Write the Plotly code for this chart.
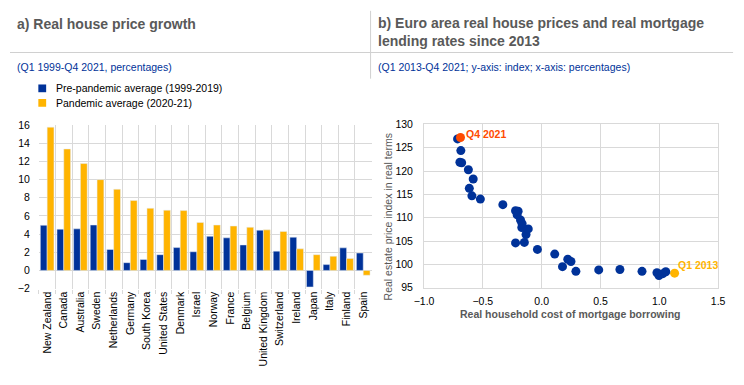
import plotly.graph_objects as go

# ---------------- data ----------------
countries = ["New Zealand", "Canada", "Australia", "Sweden", "Netherlands", "Germany",
             "South Korea", "United States", "Denmark", "Israel", "Norway", "France",
             "Belgium", "United Kingdom", "Switzerland", "Ireland", "Japan", "Italy",
             "Finland", "Spain"]
pre_pandemic = [4.96, 4.53, 4.57, 4.99, 2.30, 0.85, 1.20, 1.73, 2.51, 2.05, 3.75, 3.58,
                2.80, 4.42, 2.12, 3.65, -1.82, 0.64, 2.48, 1.91]
pandemic = [15.75, 13.35, 11.75, 9.98, 8.92, 7.68, 6.83, 6.62, 6.58, 5.27, 4.99, 4.88,
            4.74, 4.46, 4.28, 2.37, 1.73, 1.56, 1.31, -0.53]
bar_ticks = [-2, 0, 2, 4, 6, 8, 10, 12, 14, 16]

# Q1 2013 ... Q4 2021 (approximate reading)
mortgage_cost = [1.13, 1.055, 1.03, 0.997, 0.98, 0.853, 0.665, 0.485, 0.291, 0.177,
                 0.249, 0.222, 0.111, -0.036, -0.147, -0.222, -0.133, -0.114, -0.169,
                 -0.166, -0.18, -0.208, -0.20, -0.222, -0.33, -0.521, -0.593, -0.615,
                 -0.582, -0.623, -0.68, -0.695, -0.687, -0.715, -0.69]
price_index = [98.1, 98.4, 98.0, 97.6, 98.2, 98.5, 98.9, 98.8, 98.5, 99.5,
               100.6, 101.1, 102.2, 103.2, 104.7, 104.6, 106.4, 107.6, 107.9,
               108.7, 109.5, 110.6, 111.4, 111.5, 112.8, 114.0, 114.7, 116.3,
               118.3, 120.3, 121.8, 121.9, 124.4, 126.9, 127.2]

BLUE = "#003299"
YELLOW = "#FFB400"
RED = "#FF4B00"
GRID = "#d9d9d9"
GRAY = "#595959"
FONT = "Liberation Sans, Arial, sans-serif"

W, H = 744, 385


def px(x):
    return x / W


def py(y):
    return 1 - y / H


fig = go.Figure()

fig.add_trace(go.Bar(x=countries, y=pre_pandemic, name="Pre-pandemic average (1999-2019)",
                     marker=dict(color=BLUE), xaxis="x", yaxis="y", showlegend=False))
fig.add_trace(go.Bar(x=countries, y=pandemic, name="Pandemic average (2020-21)",
                     marker=dict(color=YELLOW), xaxis="x", yaxis="y", showlegend=False))

colors = [BLUE] * len(mortgage_cost)
colors[0] = YELLOW
colors[-1] = RED
fig.add_trace(go.Scatter(x=mortgage_cost, y=price_index, mode="markers",
                         marker=dict(color=colors, size=9), xaxis="x2", yaxis="y2",
                         showlegend=False, hoverinfo="x+y"))

axis_font = dict(family=FONT, size=10.5, color="#000000")

fig.update_layout(
    width=W, height=H, autosize=False,
    margin=dict(l=0, r=0, t=0, b=0),
    paper_bgcolor="white", plot_bgcolor="white",
    font=dict(family=FONT, size=10.5, color="#000000"),
    barmode="group", bargap=0.18, bargroupgap=0,
    xaxis=dict(domain=[px(29.5), px(370)], anchor="y", type="category",
               tickson="boundaries", showgrid=True, gridcolor=GRID, gridwidth=1,
               ticks="outside", ticklen=4, tickcolor=GRID, tickangle=-90,
               tickfont=axis_font, showline=False, zeroline=False),
    yaxis=dict(domain=[py(291.7), py(122.7)], anchor="x", range=[-2, 16],
               tickvals=bar_ticks, showgrid=True, gridcolor=GRID, zeroline=True,
               zerolinecolor=GRID, zerolinewidth=1, tickfont=axis_font,
               ticklabelstandoff=8, showline=False),
    xaxis2=dict(domain=[px(423.7), px(724.7)], anchor="y2", range=[-1.0, 1.5],
                dtick=0.5, tick0=-1.0, tickformat=".1f", showgrid=True, gridcolor=GRID,
                zeroline=False, showline=True, linecolor=GRID, mirror=True,
                tickfont=axis_font, ticklabelstandoff=4),
    yaxis2=dict(domain=[py(290.7), py(122.3)], anchor="x2", range=[95, 130],
                dtick=5, showgrid=True, gridcolor=GRID, zeroline=False,
                showline=True, linecolor=GRID, mirror=True, tickfont=axis_font,
                ticklabelstandoff=8),
)

ann = []
# titles
ann.append(dict(x=px(5), y=py(19), xref="paper", yref="paper", xanchor="left", yanchor="middle",
                text="<b>a) Real house price growth</b>", showarrow=False,
                font=dict(family=FONT, size=14, color=GRAY)))
ann.append(dict(x=px(375), y=py(27), xref="paper", yref="paper", xanchor="left", yanchor="middle",
                text="<b>b) Euro area real house prices and real mortgage<br>lending rates since 2013</b>",
                showarrow=False, align="left",
                font=dict(family=FONT, size=14, color=GRAY)))
# subtitles
ann.append(dict(x=px(5), y=py(63), xref="paper", yref="paper", xanchor="left", yanchor="middle",
                text="(Q1 1999-Q4 2021, percentages)", showarrow=False,
                font=dict(family=FONT, size=10.5, color=BLUE)))
ann.append(dict(x=px(375), y=py(63), xref="paper", yref="paper", xanchor="left", yanchor="middle",
                text="(Q1 2013-Q4 2021; y-axis: index; x-axis: percentages)", showarrow=False,
                font=dict(family=FONT, size=10.5, color=BLUE)))
# legend texts
ann.append(dict(x=px(45), y=py(85), xref="paper", yref="paper", xanchor="left", yanchor="middle",
                text="Pre-pandemic average (1999-2019)", showarrow=False,
                font=dict(family=FONT, size=10.5, color="#000000")))
ann.append(dict(x=px(45), y=py(100), xref="paper", yref="paper", xanchor="left", yanchor="middle",
                text="Pandemic average (2020-21)", showarrow=False,
                font=dict(family=FONT, size=10.5, color="#000000")))
# scatter axis titles
ann.append(dict(x=px(387), y=py(217), xref="paper", yref="paper", xanchor="center", yanchor="middle",
                text="Real estate price index in real terms", textangle=-90, showarrow=False,
                font=dict(family=FONT, size=10.5, color=GRAY)))
ann.append(dict(x=px(574), y=py(318), xref="paper", yref="paper", xanchor="center", yanchor="middle",
                text="<b>Real household cost of mortgage borrowing</b>", showarrow=False,
                font=dict(family=FONT, size=10.5, color=GRAY)))
# point labels
ann.append(dict(x=mortgage_cost[-1], y=price_index[-1], xref="x2", yref="y2",
                xanchor="left", yanchor="bottom", xshift=4, yshift=-4,
                text="<b>Q4 2021</b>", showarrow=False,
                font=dict(family=FONT, size=10.5, color=RED)))
ann.append(dict(x=mortgage_cost[0], y=price_index[0], xref="x2", yref="y2",
                xanchor="left", yanchor="bottom", xshift=1, yshift=0,
                text="<b>Q1 2013</b>", showarrow=False,
                font=dict(family=FONT, size=10.5, color=YELLOW)))
fig.update_layout(annotations=ann)

shapes = [
    dict(type="line", xref="paper", yref="paper", x0=0, x1=px(740), y0=py(48), y1=py(48),
         line=dict(color="#d0d0d0", width=1)),
    dict(type="line", xref="paper", yref="paper", x0=px(369), x1=px(369), y0=py(5), y1=py(75),
         line=dict(color="#d0d0d0", width=1)),
    # legend swatches
    dict(type="rect", xref="paper", yref="paper", x0=px(29), x1=px(37), y0=py(89), y1=py(81),
         fillcolor=BLUE, line=dict(width=0)),
    dict(type="rect", xref="paper", yref="paper", x0=px(29), x1=px(37), y0=py(104), y1=py(96),
         fillcolor=YELLOW, line=dict(width=0)),
]
fig.update_layout(shapes=shapes)

fig.write_html("out.html", config={"displayModeBar": False})

# remove default page margins so the 744x385 figure fills the window exactly
with open("out.html", "r", encoding="utf-8") as f:
    html = f.read()
html = html.replace("<head>", "<head><style>html,body{margin:0;padding:0;overflow:hidden;}</style>", 1)
with open("out.html", "w", encoding="utf-8") as f:
    f.write(html)
